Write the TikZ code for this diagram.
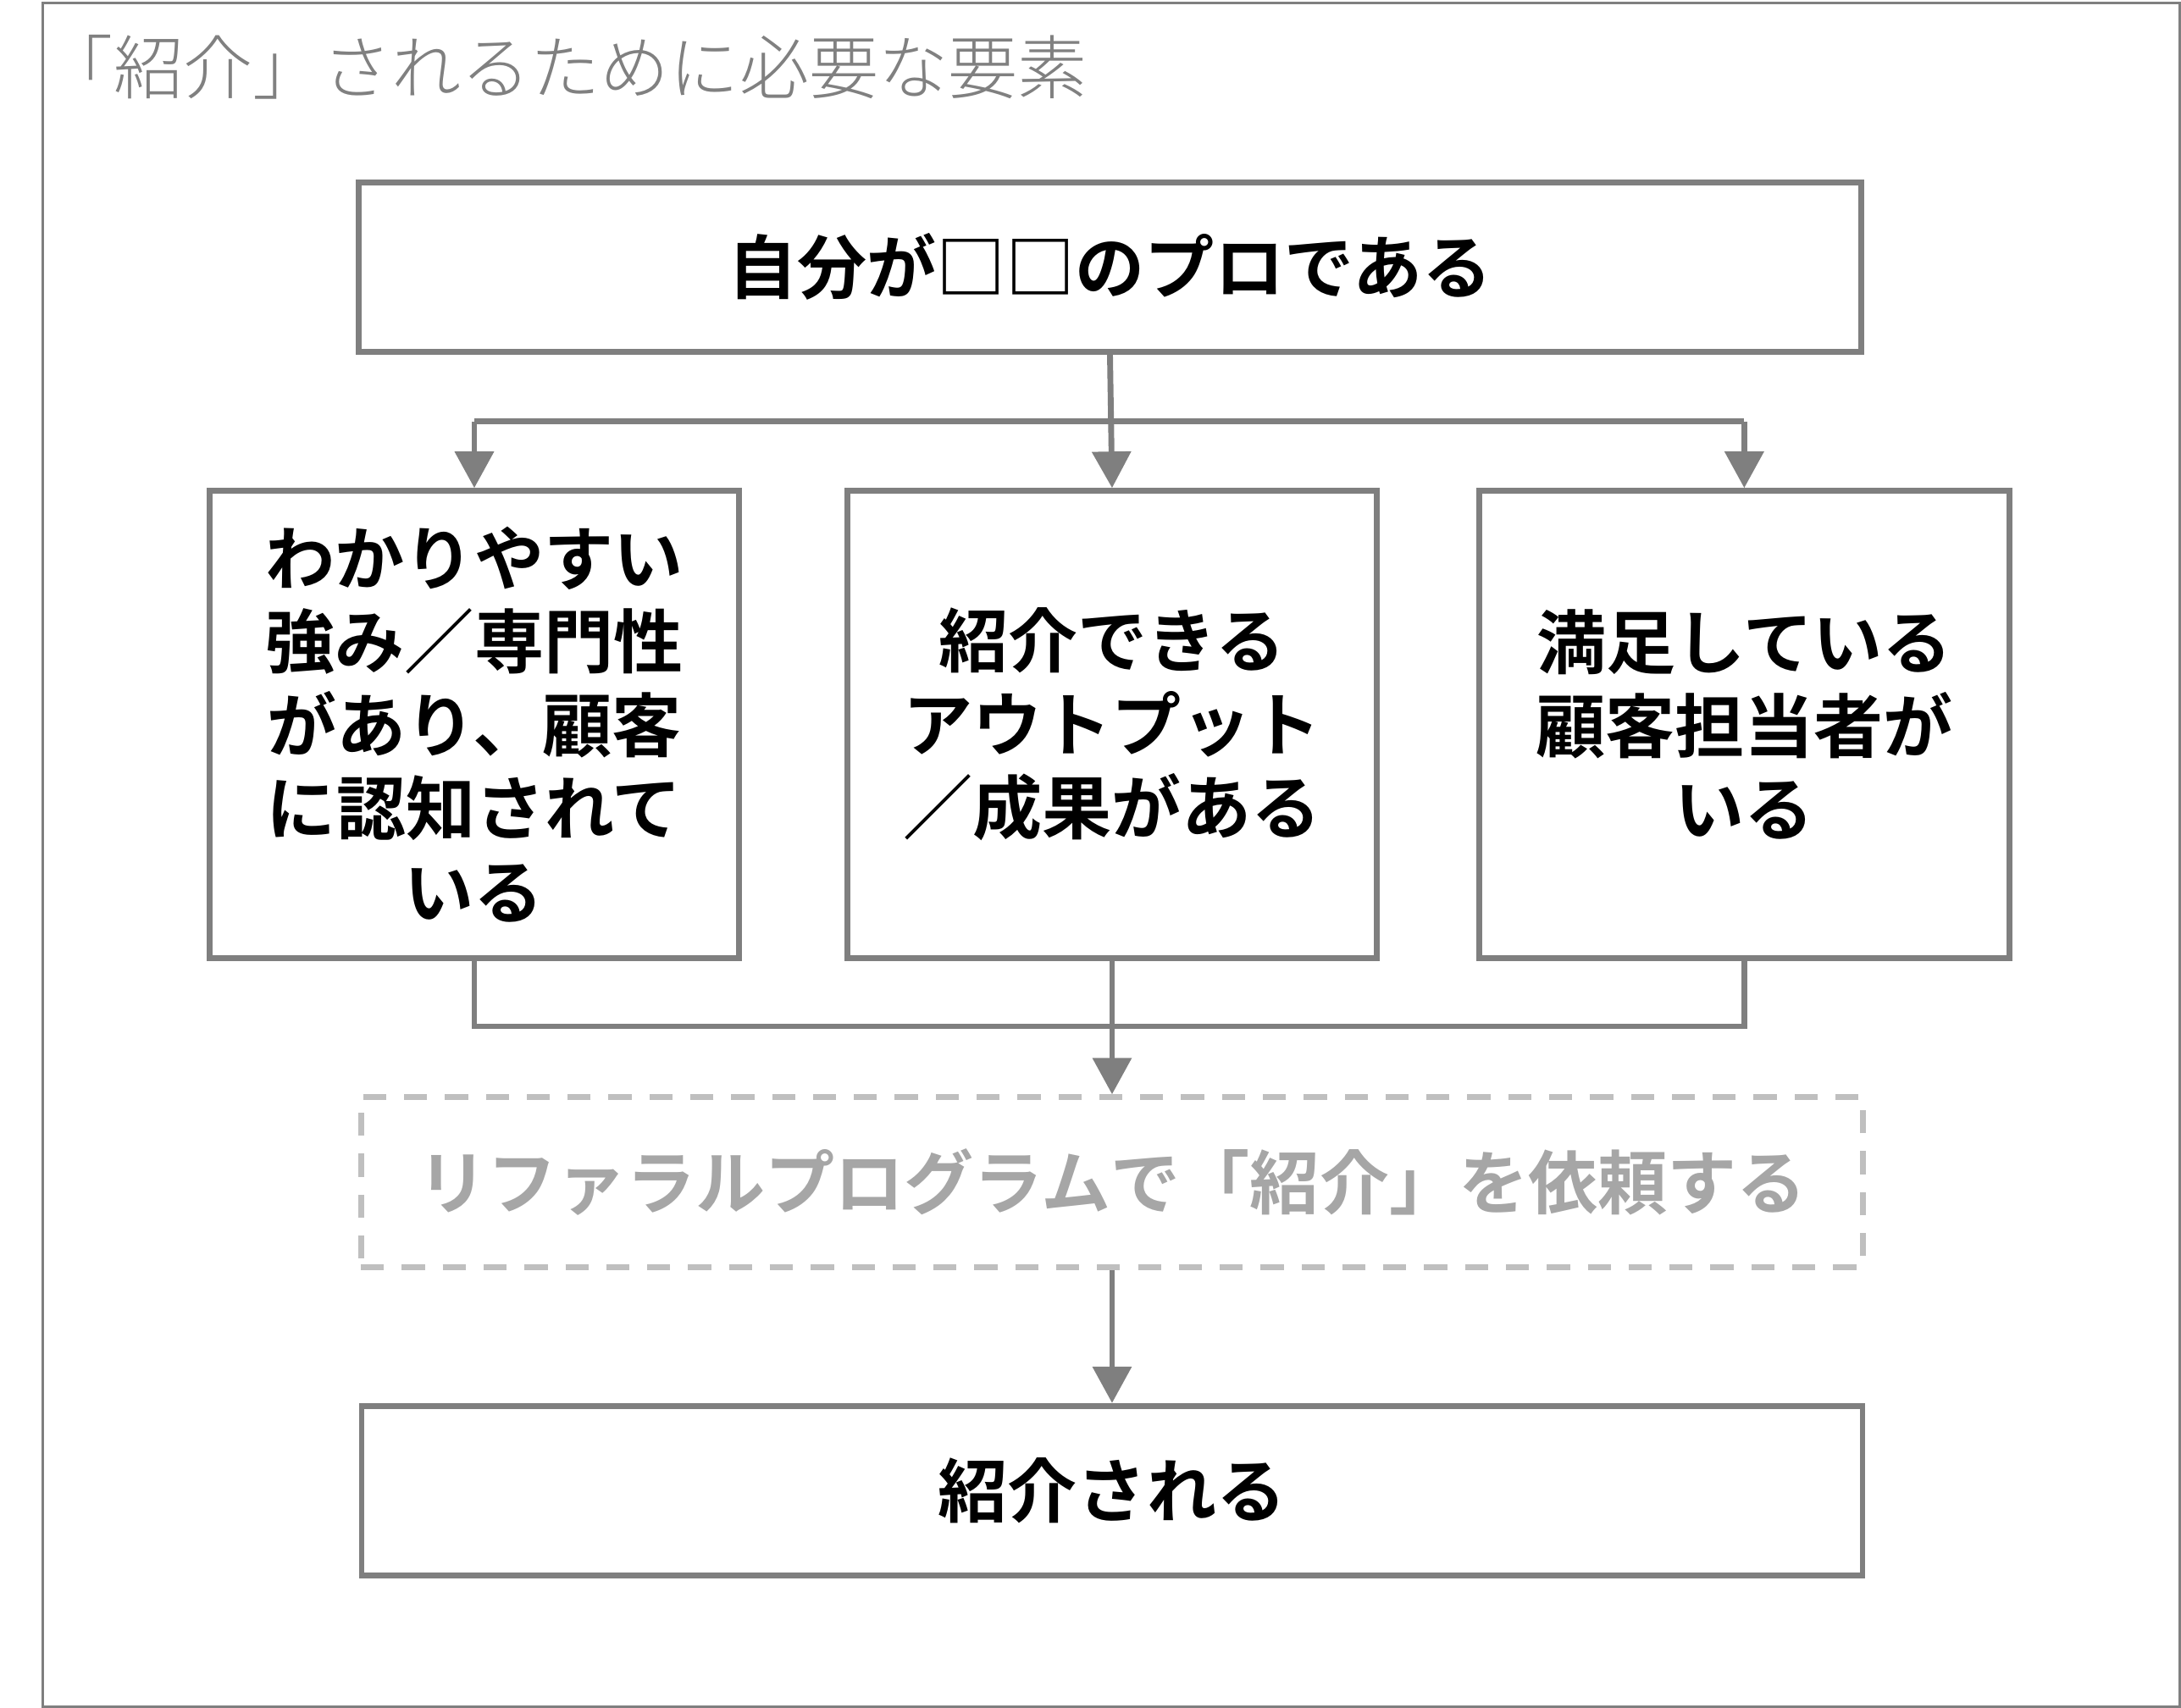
\documentclass[tikz,border=0pt]{standalone}
\usepackage{fontspec}
\setmainfont{Noto Sans CJK JP}[BoldFont={Noto Sans CJK JP Bold}]
\newfontfamily\titlefont{Noto Sans CJK JP Light}
\usetikzlibrary{arrows.meta}
\definecolor{linegray}{HTML}{7F7F7F}
\definecolor{dashgray}{HTML}{BFBFBF}
\definecolor{dashtext}{HTML}{A6A6A6}
\definecolor{titlegray}{HTML}{808080}
\tikzset{
  box/.style={draw=linegray, line width=2.1pt, rectangle, align=center, inner sep=0pt,
    font=\fontsize{25pt}{30pt}\selectfont\bfseries, text=black},
  wide/.style={box, minimum width=540pt, minimum height=61pt},
  tall/.style={box, minimum width=190.5pt, minimum height=168pt},
  dashbox/.style={wide, draw=dashgray, dash pattern=on 8.3pt off 6.4pt, text=dashtext},
  conn/.style={draw=linegray, line width=2.1pt},
  arr/.style={conn, -{Triangle[width=13.7pt,length=13.1pt]}},
}
\begin{document}
\begin{tikzpicture}[x=0.5pt,y=-0.5pt]
\useasboundingbox (0,0) rectangle (1568,1228);
\draw[draw=linegray, line width=0.9pt] (31,2) rectangle (1567,1227);
\node[anchor=base east, inner sep=0pt, text=titlegray, font=\fontsize{25pt}{30pt}\selectfont\titlefont] (title) at (782,67) {「紹介」されるために必要な要素};

\node[wide] (top) at (798,192) {自分が□□のプロである};
\node[tall] (left) at (341,521) {わかりやすい\\強み／専門性\\があり、顧客\\に認知されて\\いる};
\node[tall] (mid) at (799.5,521) {紹介できる\\アウトプット\\／成果がある};
\node[tall] (right) at (1254,521) {満足している\\顧客担当者が\\いる};
\node[dashbox] (req) at (799.5,850) {リファラルプログラムで「紹介」を依頼する};
\node[wide, minimum width=539.5pt] (out) at (799.5,1072) {紹介される};

\coordinate (j1) at (798,303);
\coordinate (j2) at (799,738);
\draw[conn] (left.north |- j1) -- (right.north |- j1);
\draw[arr] (left.north |- j1) -- (left.north);
\draw[arr] (right.north |- j1) -- (right.north);
\draw[arr] (top.south) -- (mid.north);
\draw[conn] (left.south) -- (left.south |- j2) -- (right.south |- j2) -- (right.south);
\draw[arr] (mid.south) -- (req.north);
\draw[arr] (req.south) -- (out.north);
\end{tikzpicture}
\end{document}
